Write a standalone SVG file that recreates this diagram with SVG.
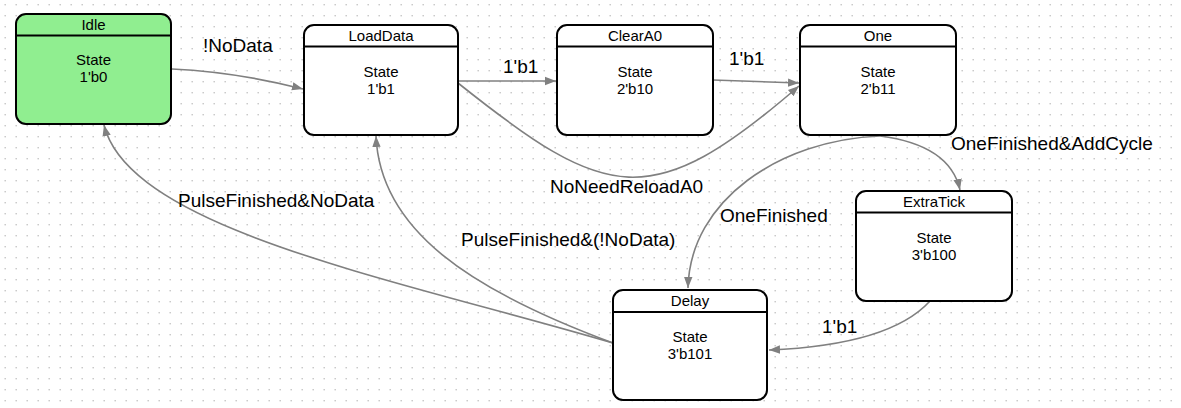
<svg xmlns="http://www.w3.org/2000/svg" width="1181" height="408" viewBox="0 0 1181 408">
<style>
.box{fill:#fff;stroke:#000;stroke-width:2}
.idle{fill:#90ee90}
.hdr{stroke:#000;stroke-width:2}
.t{font-family:"Liberation Sans",Arial,sans-serif;font-size:15px;fill:#000;text-anchor:middle}
.e{fill:none;stroke:#808080;stroke-width:1.6}
.lbl{font-family:"Liberation Sans",Arial,sans-serif;font-size:19px;fill:#000}
</style>
<defs>
<pattern id="grid" width="11" height="11" patternUnits="userSpaceOnUse" x="0" y="0">
<rect x="4.5" y="4" width="1.4" height="1.4" fill="#c4c4c4"/>
</pattern>
<marker id="arr" markerWidth="12" markerHeight="10" refX="11" refY="5" orient="auto" markerUnits="userSpaceOnUse">
<path d="M0,0.8 L11,5 L0,9.2 Z" fill="#808080"/>
</marker>
</defs>
<rect width="1181" height="408" fill="#fff"/>
<rect width="1181" height="408" fill="url(#grid)"/>
<g id="connectors">
<path class="e" marker-end="url(#arr)" d="M172,69 C215,71 260,78 303,89"/>
<path class="e" marker-end="url(#arr)" d="M458,81 L556,81"/>
<path class="e" marker-end="url(#arr)" d="M713,80 L799,83"/>
<path class="e" marker-end="url(#arr)" d="M458,83 C607,202 651,214 799,86"/>
<path class="e" marker-end="url(#arr)" d="M880,136 Q950,145 960,190"/>
<path class="e" marker-end="url(#arr)" d="M880,136 C780,140 690,200 688,288"/>
<path class="e" marker-end="url(#arr)" d="M930,301 Q890,345 769,350"/>
<path class="e" marker-end="url(#arr)" d="M613,343 C470,290 380,230 376,136"/>
<path class="e" marker-end="url(#arr)" d="M613,343 C400,280 130,230 104,125"/>
<text class="lbl" x="203" y="52">!NoData</text>
<text class="lbl" x="503" y="73">1'b1</text>
<text class="lbl" x="729" y="65">1'b1</text>
<text class="lbl" x="550" y="193">NoNeedReloadA0</text>
<text class="lbl" x="951" y="150">OneFinished&amp;AddCycle</text>
<text class="lbl" x="720" y="222">OneFinished</text>
<text class="lbl" x="822" y="333">1'b1</text>
<text class="lbl" x="461" y="246">PulseFinished&amp;(!NoData)</text>
<text class="lbl" x="178" y="207">PulseFinished&amp;NoData</text>
</g>
<g id="Idle">
<rect class="box idle" x="16" y="14" width="155" height="110" rx="10"/>
<line class="hdr" x1="16" y1="35.5" x2="171" y2="35.5"/>
<text class="t" x="93.5" y="29.5">Idle</text>
<text class="t" x="93.5" y="65">State</text>
<text class="t" x="93.5" y="82">1'b0</text>
</g>
<g id="LoadData">
<rect class="box" x="304" y="25" width="154" height="110" rx="10"/>
<line class="hdr" x1="304" y1="46.5" x2="458" y2="46.5"/>
<text class="t" x="381" y="40.5">LoadData</text>
<text class="t" x="381" y="76.5">State</text>
<text class="t" x="381" y="93.5">1'b1</text>
</g>
<g id="ClearA0">
<rect class="box" x="557" y="25" width="156" height="110" rx="10"/>
<line class="hdr" x1="557" y1="46.5" x2="713" y2="46.5"/>
<text class="t" x="635" y="40.5">ClearA0</text>
<text class="t" x="635" y="76.5">State</text>
<text class="t" x="635" y="93.5">2'b10</text>
</g>
<g id="One">
<rect class="box" x="800" y="25" width="156" height="110" rx="10"/>
<line class="hdr" x1="800" y1="46.5" x2="956" y2="46.5"/>
<text class="t" x="878" y="40.5">One</text>
<text class="t" x="878" y="76.5">State</text>
<text class="t" x="878" y="93.5">2'b11</text>
</g>
<g id="ExtraTick">
<rect class="box" x="856" y="191" width="156" height="110" rx="10"/>
<line class="hdr" x1="856" y1="212.5" x2="1012" y2="212.5"/>
<text class="t" x="934" y="206.5">ExtraTick</text>
<text class="t" x="934" y="242.5">State</text>
<text class="t" x="934" y="259.5">3'b100</text>
</g>
<g id="Delay">
<rect class="box" x="613" y="290" width="154" height="110" rx="10"/>
<line class="hdr" x1="613" y1="312" x2="767" y2="312"/>
<text class="t" x="690" y="306">Delay</text>
<text class="t" x="690" y="342">State</text>
<text class="t" x="690" y="359">3'b101</text>
</g>
</svg>
